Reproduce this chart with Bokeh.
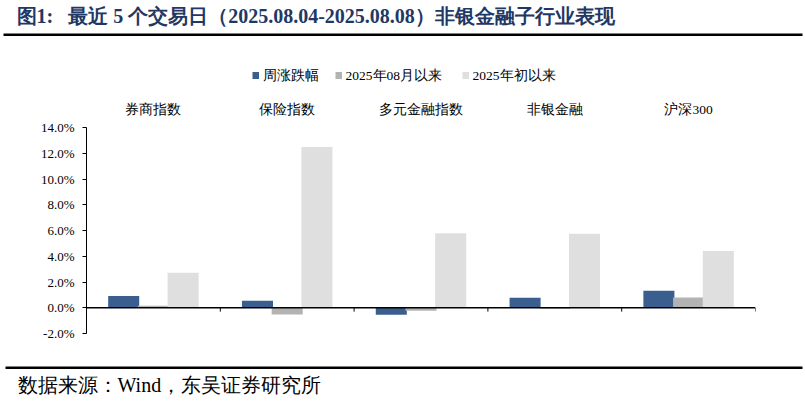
from bokeh.plotting import figure
from bokeh.layouts import column
from bokeh.models import (ColumnDataSource, Range1d, FactorRange, FixedTicker, PrintfTickFormatter,
                          Span, Label, BoxAnnotation, LinearAxis, CategoricalAxis)
from bokeh.transform import dodge
from bokeh.embed import file_html
from bokeh.resources import INLINE

# ---- data ----
categories = ["券商指数", "保险指数", "多元金融指数", "非银金融", "沪深300"]
weekly = [0.92, 0.55, -0.55, 0.78, 1.32]          # 周涨跌幅 (%)
since_aug = [0.15, -0.52, -0.24, -0.08, 0.80]     # 2025年08月以来 (%)
ytd = [2.72, 12.48, 5.78, 5.75, 4.40]             # 2025年初以来 (%)
series_names = ["周涨跌幅", "2025年08月以来", "2025年初以来"]
y_ticks = [-2, 0, 2, 4, 6, 8, 10, 12, 14]

title_text = "图1:\u00a0\u00a0\u00a0最近 5 个交易日（2025.08.04-2025.08.08）非银金融子行业表现"
source_text = "数据来源：Wind，东吴证券研究所"

colors = ["#3A5F8F", "#B3B3B3", "#DFDFDF"]
SERIF = "Liberation Serif"
W = 805
TOP_H, MAIN_H, BOT_H = 90, 255, 57   # image rows 0-90, 90-345, 345-402


def blank_fig(h, y0, y1):
    f = figure(width=W, height=h, output_backend="svg", toolbar_location=None,
               x_range=Range1d(0, W), y_range=Range1d(y1, y0),
               x_axis_location=None, y_axis_location=None, frame_align=False,
               min_border=0, min_border_left=0, min_border_right=0, min_border_top=0, min_border_bottom=0)
    f.outline_line_color = None
    f.xgrid.grid_line_color = None
    f.ygrid.grid_line_color = None
    f.background_fill_color = "white"
    f.border_fill_color = "white"
    return f


# ---------------- top: title, rule, legend ----------------
top = blank_fig(TOP_H, 0, TOP_H)
top.add_layout(Label(x=16, y=15, text=title_text,
                     text_font=SERIF, text_font_style="bold", text_font_size="20px",
                     text_color="#1F3864", text_baseline="middle", text_align="left"))
top.add_layout(BoxAnnotation(left=3, right=802, top=33, bottom=35.5,
                             fill_color="#000000", fill_alpha=1, line_color=None))

# legend: swatch + label per series
legend_sw_x = [252, 335, 462]
legend_y = 75
for name, c, lx in zip(series_names, colors, legend_sw_x):
    top.add_layout(BoxAnnotation(left=lx, right=lx + 6.5, top=legend_y - 3.5, bottom=legend_y + 3.5,
                                 fill_color=c, fill_alpha=1, line_color=None))
    top.add_layout(Label(x=lx + 10, y=legend_y, text=name, text_font=SERIF, text_font_size="13.5px",
                         text_color="#000000", text_baseline="middle", text_align="left"))

# ---------------- main chart ----------------
src = ColumnDataSource(dict(cat=categories, weekly=weekly, since_aug=since_aug, ytd=ytd))

p = figure(width=W, height=MAIN_H, output_backend="svg", toolbar_location=None,
           x_range=FactorRange(*categories, range_padding=0), y_range=Range1d(-2, 14),
           x_axis_location=None, y_axis_location=None, frame_align=False,
           min_border_left=86, min_border_right=50, min_border_top=37, min_border_bottom=12)
p.outline_line_color = None
p.xgrid.grid_line_color = None
p.ygrid.grid_line_color = None
p.background_fill_color = "white"
p.border_fill_color = "white"

yax = LinearAxis(ticker=FixedTicker(ticks=y_ticks), formatter=PrintfTickFormatter(format="%.1f%%"))
yax.axis_line_color = "#000000"
yax.axis_line_width = 1
yax.major_tick_line_color = "#000000"
yax.major_tick_out = 4
yax.major_tick_in = 0
yax.minor_tick_line_color = None
yax.major_label_standoff = 8
yax.major_label_text_font = SERIF
yax.major_label_text_font_size = "13px"
yax.major_label_text_color = "#000000"
p.add_layout(yax, "left")

xax = CategoricalAxis()
xax.axis_line_color = None
xax.major_tick_line_color = None
xax.major_tick_out = 0
xax.major_tick_in = 0
xax.minor_tick_line_color = None
xax.major_label_standoff = 11
xax.major_label_text_font = SERIF
xax.major_label_text_font_size = "13.5px"
xax.major_label_text_color = "#000000"
p.add_layout(xax, "above")

bw = 0.232
off = 0.222
p.vbar(x=dodge("cat", -off, range=p.x_range), top="weekly", bottom=0, width=bw, source=src,
       fill_color=colors[0], line_color=None)
p.vbar(x=dodge("cat", 0, range=p.x_range), top="since_aug", bottom=0, width=bw, source=src,
       fill_color=colors[1], line_color=None)
p.vbar(x=dodge("cat", off, range=p.x_range), top="ytd", bottom=0, width=bw, source=src,
       fill_color=colors[2], line_color=None)

p.add_layout(Span(location=0, dimension="width", line_color="#000000", line_width=1.5))
tick_len = 0.3
p.segment(x0=dodge("cat", -0.5, range=p.x_range), y0=0, x1=dodge("cat", -0.5, range=p.x_range),
          y1=-tick_len, source=src, line_color="#000000", line_width=1)
last = ColumnDataSource(dict(cat=[categories[-1]]))
p.segment(x0=dodge("cat", 0.5, range=p.x_range), y0=0, x1=dodge("cat", 0.5, range=p.x_range),
          y1=-tick_len, source=last, line_color="#000000", line_width=1)

# ---------------- bottom: rule + source ----------------
bot = blank_fig(BOT_H, TOP_H + MAIN_H, TOP_H + MAIN_H + BOT_H)
bot.add_layout(BoxAnnotation(left=5, right=802, top=366, bottom=368.5,
                             fill_color="#000000", fill_alpha=1, line_color=None))
bot.add_layout(Label(x=17, y=384, text=source_text,
                     text_font=SERIF, text_font_size="20px",
                     text_color="#000000", text_baseline="middle", text_align="left"))

layout = column(top, p, bot, spacing=0)
open("out.html", "w").write(file_html(layout, INLINE))
